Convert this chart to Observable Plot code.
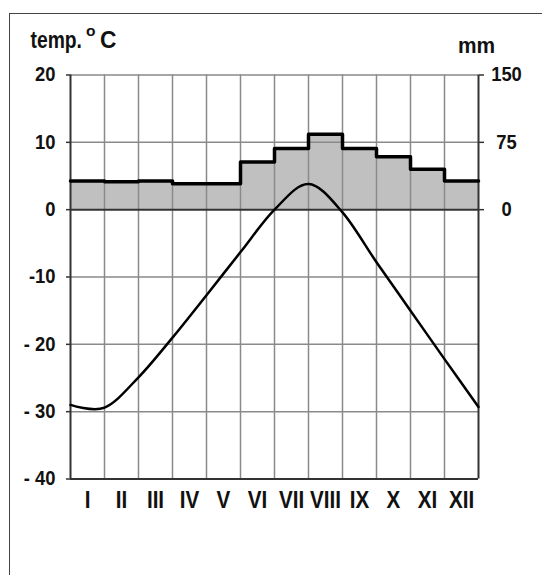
<!DOCTYPE html>
<html>
<head>
<meta charset="utf-8">
<script src="https://cdn.jsdelivr.net/npm/d3@7"></script>
<script src="https://cdn.jsdelivr.net/npm/@observablehq/plot@0.6"></script>
<style>
  html, body { margin: 0; padding: 0; background: #fff; overflow: hidden; }
  #wrap { position: relative; width: 542px; height: 575px; }
  #border { position: absolute; left: 9px; top: 13px; width: 600px; height: 650px;
            border-left: 1.5px solid #444; border-top: 1.5px solid #444; pointer-events: none; }
</style>
</head>
<body>
<div id="wrap"><div id="border"></div></div>
<script>
// ---- data ----
const months = ["I","II","III","IV","V","VI","VII","VIII","IX","X","XI","XII"];
const precipMM = [32, 31, 32, 29, 29, 53, 68, 84, 68, 59, 45, 32];
// temperature curve read at the 13 month boundaries (start of I ... end of XII)
const tempBoundaryC = [-29.0, -29.4, -24.9, -19.0, -12.7, -6.3, 0.0, 3.8, -0.4, -7.8, -15.0, -22.2, -29.3];
const leftTicks = [-40, -30, -20, -10, 0, 10, 20];
const leftTickLabels = ["- 40", "- 30", "- 20", "-10", "0", "10", "20"];
const rightTicksMM = [0, 75, 150];
const rightTickLabels = ["0", "75", "150"];
const gridTemps = [20, 10, -10, -20, -30];
const MM_PER_DEGREE = 7.5;   // 150 mm on the right axis = 20 °C on the left axis

// ---- derived tables ----
const bars = precipMM.map((p, i) => ({x1: i, x2: i + 1, y: p / MM_PER_DEGREE}));
const steps = precipMM.map((p, i) => ({x: i, y: p / MM_PER_DEGREE}))
  .concat([{x: months.length, y: precipMM[precipMM.length - 1] / MM_PER_DEGREE}]);
const tempLine = tempBoundaryC.map((t, i) => ({x: i, t}));
const boundaries = d3.range(1, months.length);

const FONT = "'Liberation Sans', Arial, sans-serif";

const chart = Plot.plot({
  width: 542,
  height: 575,
  marginLeft: 70,
  marginRight: 64,
  marginTop: 74.5,
  marginBottom: 96.5,
  x: {domain: [0, 12]},
  y: {domain: [-40, 20]},
  style: {fontFamily: FONT, fontWeight: "bold", color: "#111", background: "transparent", overflow: "visible"},
  marks: [
    Plot.rectY(bars, {x1: "x1", x2: "x2", y1: 0, y2: "y", fill: "#c0c0c0"}),
    Plot.ruleX(boundaries, {stroke: "#8a8a8a", strokeWidth: 1.5}),
    Plot.ruleY(gridTemps, {stroke: "#8a8a8a", strokeWidth: 1.5}),
    Plot.ruleY([0], {stroke: "#333", strokeWidth: 2}),
    Plot.ruleY([-40], {stroke: "#333", strokeWidth: 2}),
    Plot.ruleX([0, 12], {stroke: "#333", strokeWidth: 2}),
    Plot.line(steps, {x: "x", y: "y", curve: "step-after", stroke: "#000", strokeWidth: 3.5}),
    Plot.line(tempLine, {x: "x", y: "t", curve: d3.curveCatmullRom.alpha(0), stroke: "#000", strokeWidth: 2.5}),
    Plot.axisY({
      anchor: "left", ticks: leftTicks, tickSize: 4, tickPadding: 11,
      tickFormat: d => leftTickLabels[leftTicks.indexOf(d)],
      fontSize: 20, stroke: "#333", strokeWidth: 1.5, label: null
    }),
    Plot.axisY({
      anchor: "right", ticks: rightTicksMM.map(m => m / MM_PER_DEGREE), tickSize: 5, tickPadding: 23,
      textAnchor: "middle",
      tickFormat: (d, i) => rightTickLabels[i],
      fontSize: 20, stroke: "#333", strokeWidth: 1.5, label: null
    }),
    Plot.axisX({
      anchor: "bottom", ticks: months.map((m, i) => i + 0.5), tickSize: 0, tickPadding: 11.5,
      tickFormat: (d, i) => months[i],
      fontSize: 24, label: null
    }),
    Plot.text(["temp."], {frameAnchor: "top-left", dx: -40, dy: -27.5, textAnchor: "start", lineAnchor: "bottom", fontSize: 23, fontWeight: "bold"}),
    Plot.text(["o"], {frameAnchor: "top-left", dx: 15.5, dy: -39, textAnchor: "start", lineAnchor: "bottom", fontSize: 15.5, fontWeight: "bold"}),
    Plot.text(["C"], {frameAnchor: "top-left", dx: 29.5, dy: -27.5, textAnchor: "start", lineAnchor: "bottom", fontSize: 23.2, fontWeight: "bold"}),
    Plot.text(["mm"], {frameAnchor: "top-left", dx: 387.5, dy: -22, textAnchor: "start", lineAnchor: "bottom", fontSize: 22.5, fontWeight: "bold"})
  ]
});
document.getElementById("wrap").prepend(chart);

// the reference lettering is horizontally condensed: squeeze each text around its anchor
const squeeze = {"24": 0.86, "23": 0.84, "23.2": 0.98, "22.5": 0.93, "20": 0.92};
d3.select(chart).selectAll("text").each(function () {
  const fs = String(parseFloat(getComputedStyle(this).fontSize));
  const k = squeeze[fs] ?? 1;
  if (k === 1) return;
  const t = this.getAttribute("transform");
  if (t) {
    this.setAttribute("transform", t + ` scale(${k},1)`);
  } else {
    const x = +(this.getAttribute("x") || 0), y = +(this.getAttribute("y") || 0);
    this.removeAttribute("x"); this.removeAttribute("y");
    this.setAttribute("transform", `translate(${x},${y}) scale(${k},1)`);
  }
});
</script>
</body>
</html>
